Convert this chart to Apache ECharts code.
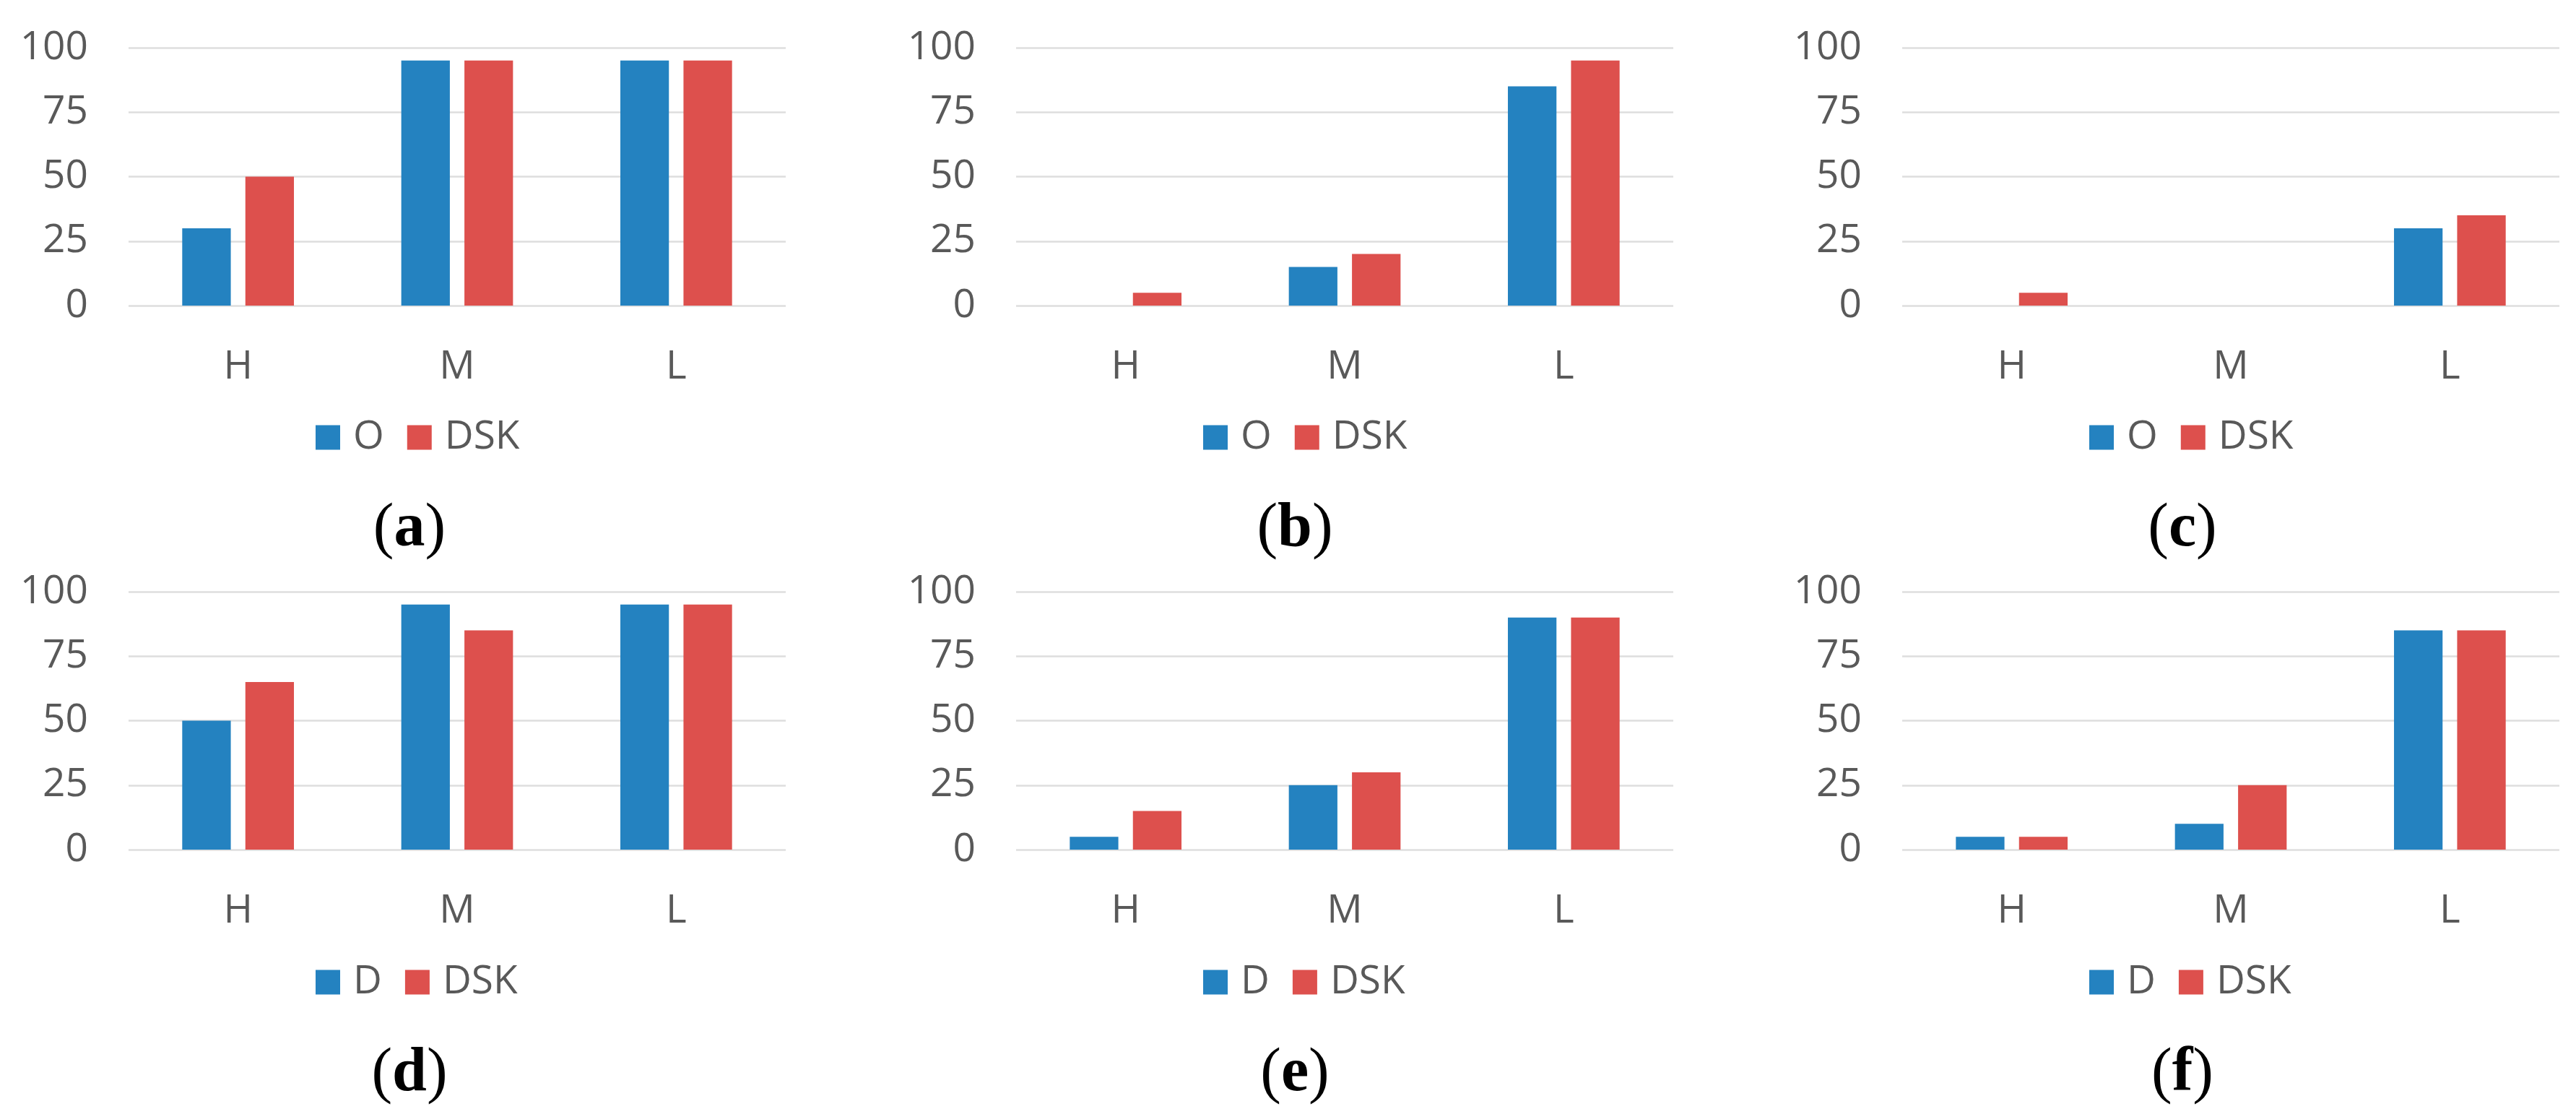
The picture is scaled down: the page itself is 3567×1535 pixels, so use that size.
<!DOCTYPE html>
<html>
<head>
<meta charset="utf-8">
<script src="https://cdn.jsdelivr.net/npm/echarts@6/dist/echarts.min.js"></script>
<style>
html,body{margin:0;padding:0;background:#fff;}
#c{width:3567px;height:1535px;}
</style>
</head>
<body>
<div id="c"></div>
<script>
// ---- data ----
var categories = ['H', 'M', 'L'];
var yMin = 0, yMax = 100, yStep = 25;
var panelLabels = ['a', 'b', 'c', 'd', 'e', 'f'];
var topSeriesNames = ['O', 'DSK'];
var bottomSeriesNames = ['D', 'DSK'];
var a_O   = [30, 95, 95];
var a_DSK = [50, 95, 95];
var b_O   = [0, 15, 85];
var b_DSK = [5, 20, 95];
var c_O   = [0, 0, 30];
var c_DSK = [5, 0, 35];
var d_D   = [50, 95, 95];
var d_DSK = [65, 85, 95];
var e_D   = [5, 25, 90];
var e_DSK = [15, 30, 90];
var f_D   = [5, 10, 85];
var f_DSK = [5, 25, 85];

var panelData = [
  [a_O, a_DSK], [b_O, b_DSK], [c_O, c_DSK],
  [d_D, d_DSK], [e_D, e_DSK], [f_D, f_DSK]
];

// ---- layout / style ----
var BLUE = '#2482C0', RED = '#DD504D', TXT = '#595959', GRIDC = '#DEDEDE';
var FONT = '"Open Sans", "Noto Sans", sans-serif';
var lefts = [178, 1407, 2634];
var gridW = 910, gridH = 357;
var tops = [66, 819];
var legendTops = [578, 1332];
var captionY = [733, 1487];

var grids = [], xAxes = [], yAxes = [], series = [], legends = [], graphics = [];
for (var i = 0; i < 6; i++) {
  var col = i % 3, row = Math.floor(i / 3);
  var names = row === 0 ? topSeriesNames : bottomSeriesNames;
  grids.push({left: lefts[col], top: tops[row], width: gridW, height: gridH, containLabel: false});
  xAxes.push({
    type: 'category', gridIndex: i, data: categories,
    axisLine: {show: false}, axisTick: {show: false},
    axisLabel: {color: TXT, fontSize: 55, fontFamily: FONT, margin: 58}
  });
  yAxes.push({
    type: 'value', gridIndex: i, min: yMin, max: yMax, interval: yStep,
    axisLine: {show: false}, axisTick: {show: false},
    axisLabel: {color: TXT, fontSize: 55, fontFamily: FONT, margin: 56},
    splitLine: {show: true, lineStyle: {color: GRIDC, width: 2.5}}
  });
  for (var s = 0; s < 2; s++) {
    series.push({
      type: 'bar', name: names[s], xAxisIndex: i, yAxisIndex: i,
      data: panelData[i][s],
      itemStyle: {color: s === 0 ? BLUE : RED},
      barGap: '30%', barCategoryGap: '49%',
      silent: true, animation: false
    });
  }
  legends.push({
    data: names, left: lefts[col] + 259, top: legendTops[row], padding: 0,
    orient: 'horizontal', icon: 'rect', itemWidth: 34, itemHeight: 34, itemGap: 32,
    selectedMode: false,
    textStyle: {color: TXT, fontSize: 55, fontFamily: FONT, padding: [0, 0, 0, 13]}
  });
  graphics.push({
    type: 'text', x: [567, 1793, 3022][col], y: captionY[row],
    style: {
      text: '{n|(}{b|' + panelLabels[i] + '}{n|)}',
      align: 'center', verticalAlign: 'middle',
      rich: {
        n: {fontFamily: '"Liberation Serif", "Times New Roman", serif', fontSize: 86, fill: '#000', fontWeight: 'normal'},
        b: {fontFamily: '"Liberation Serif", "Times New Roman", serif', fontSize: 86, fill: '#000', fontWeight: 'bold'}
      }
    }
  });
}

var chart = echarts.init(document.getElementById('c'), null, {renderer: 'canvas'});
chart.setOption({
  backgroundColor: '#ffffff',
  animation: false,
  grid: grids, xAxis: xAxes, yAxis: yAxes, series: series,
  legend: legends, graphic: graphics
});
</script>
</body>
</html>
